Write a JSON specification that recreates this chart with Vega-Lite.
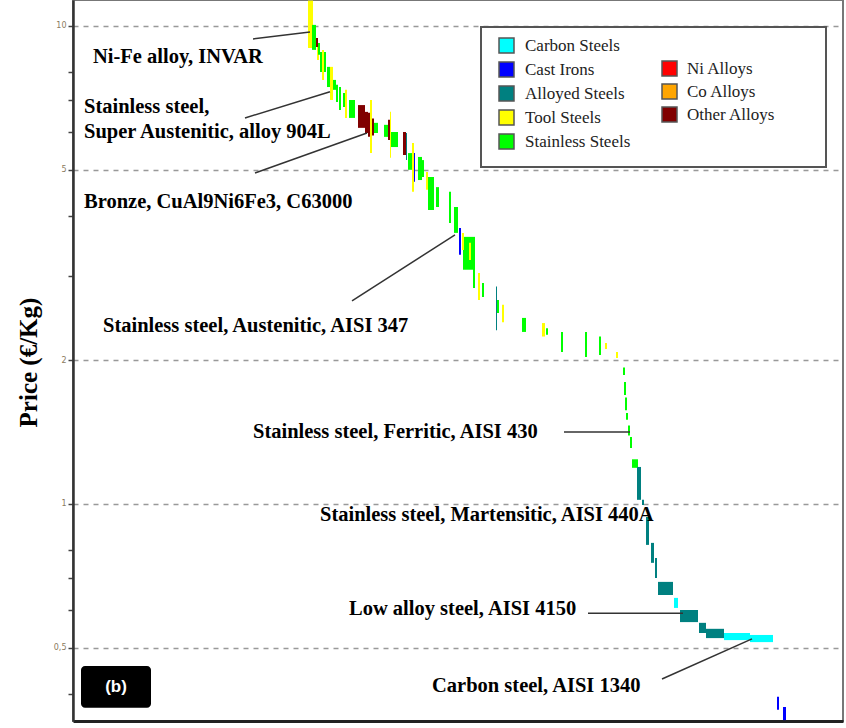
{
  "$schema": "https://vega.github.io/schema/vega-lite/v6.json",
  "width": 770,
  "height": 721,
  "autosize": {"type": "none"},
  "padding": {"left": 73, "top": 0, "right": 3, "bottom": 7},
  "background": "white",
  "config": {"view": {"stroke": "#777", "strokeWidth": 2}, "font": "Liberation Serif"},
  "datasets": {
    "steels": [
      {"rank": 235, "rank2": 240, "hi": 11.3, "lo": 8.99, "family": "Tool Steels"},
      {"rank": 239, "rank2": 243, "hi": 10.05, "lo": 8.91, "family": "Stainless Steels"},
      {"rank": 244, "rank2": 246, "hi": 9.13, "lo": 8.49, "family": "Tool Steels"},
      {"rank": 245, "rank2": 247, "hi": 9.21, "lo": 8.7, "family": "Stainless Steels"},
      {"rank": 247, "rank2": 253, "hi": 8.82, "lo": 8.01, "family": "Stainless Steels"},
      {"rank": 249, "rank2": 251, "hi": 8.91, "lo": 7.71, "family": "Tool Steels"},
      {"rank": 254, "rank2": 257, "hi": 8.21, "lo": 7.45, "family": "Stainless Steels"},
      {"rank": 257, "rank2": 260, "hi": 8.21, "lo": 7.0, "family": "Tool Steels"},
      {"rank": 260, "rank2": 263, "hi": 7.71, "lo": 7.35, "family": "Stainless Steels"},
      {"rank": 263, "rank2": 265, "hi": 7.53, "lo": 6.93, "family": "Stainless Steels"},
      {"rank": 266, "rank2": 268, "hi": 7.45, "lo": 6.67, "family": "Stainless Steels"},
      {"rank": 270, "rank2": 272, "hi": 7.24, "lo": 6.77, "family": "Stainless Steels"},
      {"rank": 272, "rank2": 274, "hi": 7.35, "lo": 6.42, "family": "Tool Steels"},
      {"rank": 276, "rank2": 282, "hi": 7.0, "lo": 6.42, "family": "Stainless Steels"},
      {"rank": 297, "rank2": 299, "hi": 7.0, "lo": 5.42, "family": "Tool Steels"},
      {"rank": 301, "rank2": 305, "hi": 6.27, "lo": 5.97, "family": "Stainless Steels"},
      {"rank": 311, "rank2": 315, "hi": 6.21, "lo": 5.86, "family": "Stainless Steels"},
      {"rank": 317, "rank2": 318, "hi": 6.61, "lo": 5.3, "family": "Tool Steels"},
      {"rank": 318, "rank2": 325, "hi": 6.0, "lo": 5.58, "family": "Stainless Steels"},
      {"rank": 333, "rank2": 334, "hi": 5.97, "lo": 5.24, "family": "Alloyed Steels"},
      {"rank": 335, "rank2": 340, "hi": 5.42, "lo": 5.0, "family": "Stainless Steels"},
      {"rank": 339, "rank2": 341, "hi": 5.69, "lo": 4.5, "family": "Tool Steels"},
      {"rank": 341, "rank2": 342, "hi": 5.42, "lo": 4.72, "family": "Cast Irons"},
      {"rank": 345, "rank2": 349, "hi": 5.32, "lo": 4.76, "family": "Stainless Steels"},
      {"rank": 347, "rank2": 351, "hi": 5.24, "lo": 4.83, "family": "Stainless Steels"},
      {"rank": 353, "rank2": 355, "hi": 4.95, "lo": 4.54, "family": "Tool Steels"},
      {"rank": 355, "rank2": 361, "hi": 4.83, "lo": 4.12, "family": "Stainless Steels"},
      {"rank": 363, "rank2": 366, "hi": 4.6, "lo": 4.18, "family": "Stainless Steels"},
      {"rank": 376, "rank2": 378, "hi": 4.5, "lo": 3.87, "family": "Stainless Steels"},
      {"rank": 381, "rank2": 385, "hi": 4.18, "lo": 3.69, "family": "Stainless Steels"},
      {"rank": 390, "rank2": 402, "hi": 3.62, "lo": 3.09, "family": "Stainless Steels"},
      {"rank": 386, "rank2": 388, "hi": 3.78, "lo": 3.32, "family": "Cast Irons"},
      {"rank": 389, "rank2": 391, "hi": 3.69, "lo": 3.4, "family": "Tool Steels"},
      {"rank": 396, "rank2": 398, "hi": 3.52, "lo": 3.24, "family": "Tool Steels"},
      {"rank": 400, "rank2": 402, "hi": 3.13, "lo": 2.83, "family": "Stainless Steels"},
      {"rank": 405, "rank2": 407, "hi": 3.04, "lo": 2.67, "family": "Tool Steels"},
      {"rank": 409, "rank2": 411, "hi": 2.9, "lo": 2.71, "family": "Stainless Steels"},
      {"rank": 423, "rank2": 424, "hi": 2.85, "lo": 2.31, "family": "Alloyed Steels"},
      {"rank": 424, "rank2": 426, "hi": 2.67, "lo": 2.51, "family": "Stainless Steels"},
      {"rank": 429, "rank2": 431, "hi": 2.61, "lo": 2.4, "family": "Tool Steels"},
      {"rank": 449, "rank2": 453, "hi": 2.45, "lo": 2.29, "family": "Stainless Steels"},
      {"rank": 469, "rank2": 472, "hi": 2.39, "lo": 2.24, "family": "Tool Steels"},
      {"rank": 473, "rank2": 475, "hi": 2.33, "lo": 2.26, "family": "Stainless Steels"},
      {"rank": 488, "rank2": 490, "hi": 2.29, "lo": 2.08, "family": "Stainless Steels"},
      {"rank": 512, "rank2": 514, "hi": 2.29, "lo": 2.03, "family": "Stainless Steels"},
      {"rank": 526, "rank2": 528, "hi": 2.24, "lo": 2.05, "family": "Stainless Steels"},
      {"rank": 532, "rank2": 534, "hi": 2.17, "lo": 2.11, "family": "Tool Steels"},
      {"rank": 543, "rank2": 545, "hi": 2.08, "lo": 2.02, "family": "Tool Steels"},
      {"rank": 550, "rank2": 552, "hi": 1.93, "lo": 1.86, "family": "Stainless Steels"},
      {"rank": 551, "rank2": 553, "hi": 1.8, "lo": 1.69, "family": "Stainless Steels"},
      {"rank": 552, "rank2": 554, "hi": 1.67, "lo": 1.57, "family": "Stainless Steels"},
      {"rank": 553, "rank2": 555, "hi": 1.55, "lo": 1.5, "family": "Stainless Steels"},
      {"rank": 555, "rank2": 557, "hi": 1.46, "lo": 1.39, "family": "Stainless Steels"},
      {"rank": 557, "rank2": 559, "hi": 1.38, "lo": 1.31, "family": "Stainless Steels"},
      {"rank": 559, "rank2": 565, "hi": 1.24, "lo": 1.19, "family": "Stainless Steels"},
      {"rank": 564, "rank2": 568, "hi": 1.195, "lo": 1.02, "family": "Alloyed Steels"},
      {"rank": 569, "rank2": 571, "hi": 1.02, "lo": 0.995, "family": "Alloyed Steels"},
      {"rank": 573, "rank2": 576, "hi": 0.939, "lo": 0.821, "family": "Alloyed Steels"},
      {"rank": 578, "rank2": 581, "hi": 0.829, "lo": 0.753, "family": "Alloyed Steels"},
      {"rank": 582, "rank2": 584, "hi": 0.771, "lo": 0.7, "family": "Alloyed Steels"},
      {"rank": 585, "rank2": 600, "hi": 0.687, "lo": 0.645, "family": "Alloyed Steels"},
      {"rank": 601, "rank2": 605, "hi": 0.636, "lo": 0.606, "family": "Carbon Steels"},
      {"rank": 607, "rank2": 625, "hi": 0.6, "lo": 0.566, "family": "Alloyed Steels"},
      {"rank": 626, "rank2": 633, "hi": 0.564, "lo": 0.537, "family": "Alloyed Steels"},
      {"rank": 633, "rank2": 651, "hi": 0.548, "lo": 0.524, "family": "Alloyed Steels"},
      {"rank": 651, "rank2": 677, "hi": 0.537, "lo": 0.519, "family": "Carbon Steels"},
      {"rank": 677, "rank2": 700, "hi": 0.532, "lo": 0.514, "family": "Carbon Steels"},
      {"rank": 704, "rank2": 706, "hi": 0.395, "lo": 0.371, "family": "Cast Irons"},
      {"rank": 710, "rank2": 713, "hi": 0.376, "lo": 0.353, "family": "Cast Irons"}
    ],
    "alloys": [
      {"rank": 243, "rank2": 245, "hi": 9.44, "lo": 9.04, "family": "Other Alloys"},
      {"rank": 285, "rank2": 292, "hi": 6.83, "lo": 6.12, "family": "Other Alloys"},
      {"rank": 292, "rank2": 295, "hi": 6.61, "lo": 5.97, "family": "Other Alloys"},
      {"rank": 295, "rank2": 297, "hi": 6.58, "lo": 5.86, "family": "Other Alloys"},
      {"rank": 299, "rank2": 301, "hi": 6.4, "lo": 5.9, "family": "Other Alloys"},
      {"rank": 315, "rank2": 317, "hi": 6.36, "lo": 5.77, "family": "Other Alloys"},
      {"rank": 330, "rank2": 333, "hi": 6.0, "lo": 5.37, "family": "Other Alloys"}
    ],
    "notes": [
      {"label": "Ni-Fe alloy, INVAR", "rank": 20, "price": 8.61},
      {"label": "Stainless steel,", "rank": 11, "price": 6.77},
      {"label": "Super Austenitic, alloy 904L", "rank": 11, "price": 6.0},
      {"label": "Bronze, CuAl9Ni6Fe3, C63000", "rank": 11, "price": 4.28},
      {"label": "Stainless steel, Austenitic, AISI 347", "rank": 30, "price": 2.357},
      {"label": "Stainless steel, Ferritic, AISI 430", "rank": 180, "price": 1.415},
      {"label": "Stainless steel, Martensitic, AISI 440A", "rank": 247, "price": 0.948},
      {"label": "Low alloy steel, AISI 4150", "rank": 276, "price": 0.603},
      {"label": "Carbon steel, AISI 1340", "rank": 359, "price": 0.416}
    ],
    "leaders": [
      {"rank": 180, "rank2": 237, "price": 9.39, "price2": 9.715},
      {"rank": 172, "rank2": 257, "price": 6.42, "price2": 7.28},
      {"rank": 182, "rank2": 294, "price": 4.925, "price2": 5.97},
      {"rank": 279, "rank2": 382, "price": 2.66, "price2": 3.655},
      {"rank": 491, "rank2": 557, "price": 1.415, "price2": 1.415},
      {"rank": 515, "rank2": 610, "price": 0.591, "price2": 0.591},
      {"rank": 589, "rank2": 679, "price": 0.4304, "price2": 0.522}
    ],
    "panel": [{"tag": "(b)"}]
  },
  "layer": [
    {
      "data": {"name": "steels"},
      "mark": {"type": "rect"},
      "encoding": {
        "x": {"field": "rank", "type": "quantitative", "scale": {"domain": [0, 770], "nice": false, "zero": false},
              "axis": {"title": null, "labels": false, "ticks": false, "grid": false, "domainColor": "#222", "domainWidth": 3}},
        "x2": {"field": "rank2"},
        "y": {"field": "hi", "type": "quantitative", "scale": {"type": "log", "domain": [0.3515, 11.33], "nice": false},
              "axis": {"title": "Price (€/Kg)", "titleFont": "Liberation Serif", "titleFontSize": 25, "titleFontWeight": "bold", "titleColor": "#000",
                       "titleAngle": -90, "titleX": -37, "titleY": 362, "titleBaseline": "alphabetic", "titleAlign": "center",
                       "values": [0.4, 0.5, 0.6, 0.7, 0.8, 1, 2, 3, 4, 5, 6, 7, 8, 10],
                       "labelExpr": "datum.value == 0.5 ? '0,5' : ((datum.value == 10 || datum.value == 5 || datum.value == 2 || datum.value == 1) ? '' + datum.value : '')",
                       "labelFont": "DejaVu Sans", "labelFontSize": 8, "labelColor": "#8a7a60", "labelPadding": 2,
                       "tickColor": "#444", "tickSize": 5, "tickWidth": 1.5,
                       "domainColor": "#333", "domainWidth": 2.5,
                       "grid": true, "gridColor": "#999", "gridDash": [5, 5], "gridWidth": 1.3,
                       "gridOpacity": {"condition": {"test": "indexof([10, 5, 2, 1, 0.5], datum.value) >= 0", "value": 1}, "value": 0}}},
        "y2": {"field": "lo"},
        "color": {"field": "family", "type": "nominal",
                  "scale": {"domain": ["Carbon Steels", "Cast Irons", "Alloyed Steels", "Tool Steels", "Stainless Steels"],
                            "range": ["#00FFFF", "#0000FF", "#008080", "#FFFF00", "#00FF00"]},
                  "legend": {"orient": "none", "legendX": 425, "legendY": 37, "title": null, "padding": 0,
                             "symbolType": "square", "symbolSize": 225, "symbolStrokeColor": "#555", "symbolStrokeWidth": 1.5, "symbolOpacity": 1,
                             "labelFont": "Liberation Serif", "labelFontSize": 17, "labelColor": "#222", "labelOffset": 10, "rowPadding": 3}}
      }
    },
    {
      "data": {"name": "alloys"},
      "mark": {"type": "rect"},
      "encoding": {
        "x": {"field": "rank", "type": "quantitative"},
        "x2": {"field": "rank2"},
        "y": {"field": "hi", "type": "quantitative"},
        "y2": {"field": "lo"},
        "color": {"field": "family", "type": "nominal",
                  "scale": {"domain": ["Ni Alloys", "Co Alloys", "Other Alloys"], "range": ["#FF0000", "#FFA500", "#800000"]},
                  "legend": {"orient": "none", "legendX": 588, "legendY": 60, "title": null, "padding": 0,
                             "symbolType": "square", "symbolSize": 225, "symbolStrokeColor": "#555", "symbolStrokeWidth": 1.5, "symbolOpacity": 1,
                             "labelFont": "Liberation Serif", "labelFontSize": 17, "labelColor": "#222", "labelOffset": 9, "rowPadding": 2}}
      }
    },
    {
      "data": {"name": "panel"},
      "mark": {"type": "rect", "fill": "white", "stroke": "#555", "strokeWidth": 2},
      "encoding": {
        "x": {"datum": 408, "type": "quantitative"},
        "x2": {"datum": 753},
        "y": {"datum": 9.95, "type": "quantitative"},
        "y2": {"datum": 5.07}
      }
    },
    {
      "data": {"name": "leaders"},
      "mark": {"type": "rule", "color": "#333", "strokeWidth": 1.5},
      "encoding": {
        "x": {"field": "rank", "type": "quantitative"},
        "x2": {"field": "rank2"},
        "y": {"field": "price", "type": "quantitative"},
        "y2": {"field": "price2"}
      }
    },
    {
      "data": {"name": "notes"},
      "mark": {"type": "text", "align": "left", "baseline": "middle", "font": "Liberation Serif", "fontWeight": "bold", "fontSize": 20.5, "color": "#000"},
      "encoding": {
        "x": {"field": "rank", "type": "quantitative"},
        "y": {"field": "price", "type": "quantitative"},
        "text": {"field": "label"}
      }
    },
    {
      "data": {"name": "panel"},
      "mark": {"type": "rect", "fill": "#000", "cornerRadius": 4},
      "encoding": {
        "x": {"datum": 8, "type": "quantitative"},
        "x2": {"datum": 78},
        "y": {"datum": 0.4583, "type": "quantitative"},
        "y2": {"datum": 0.3745}
      }
    },
    {
      "data": {"name": "panel"},
      "mark": {"type": "text", "align": "center", "baseline": "middle", "font": "Liberation Sans", "fontWeight": "bold", "fontSize": 17, "color": "#fff"},
      "encoding": {
        "x": {"datum": 43, "type": "quantitative"},
        "y": {"datum": 0.4142, "type": "quantitative"},
        "text": {"field": "tag"}
      }
    }
  ],
  "resolve": {"scale": {"color": "independent"}, "legend": {"color": "independent"}}
}
